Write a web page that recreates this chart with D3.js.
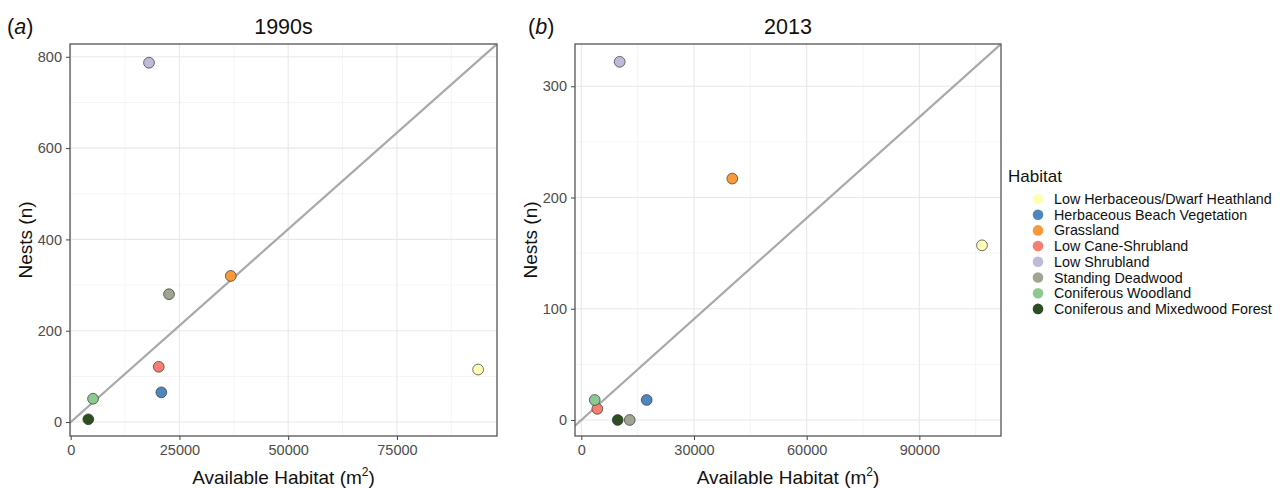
<!DOCTYPE html>
<html>
<head>
<meta charset="utf-8">
<script src="https://cdn.jsdelivr.net/npm/d3@7/dist/d3.min.js"></script>
<style>
  body { margin: 0; background: #fff; }
  svg { font-family: "Liberation Sans", Arial, sans-serif; }
</style>
</head>
<body>
<div id="chart"></div>
<script>
// habitat categories and fill colours (legend order)
const habitats = [
  'Low Herbaceous/Dwarf Heathland',
  'Herbaceous Beach Vegetation',
  'Grassland',
  'Low Cane-Shrubland',
  'Low Shrubland',
  'Standing Deadwood',
  'Coniferous Woodland',
  'Coniferous and Mixedwood Forest'
];
const habitatColors = ['#ffffb3', '#4f86bd', '#f99a3a', '#f67f72', '#bebada', '#9ea592', '#8cc98f', '#2d4e23'];

// (a) 1990s
const area1990 = [93670, 20840, 36800, 20240, 18000, 22600, 5130, 4050];
const nests1990 = [115, 65, 320, 121, 787, 280, 51, 6];
// (b) 2013
const area2013 = [106680, 17410, 40200, 4260, 10220, 12890, 3570, 9690];
const nests2013 = [157, 18, 217, 10, 322, 0, 18, 0];

// reference line slopes (nests per m2)
const slopes = [0.00845, 0.003025];

const xTicks = [[0, 25000, 50000, 75000], [0, 30000, 60000, 90000]];
const xMinor = [[12500, 37500, 62500, 87500], [15000, 45000, 75000, 105000]];
const yTicks = [[0, 200, 400, 600, 800], [0, 100, 200, 300]];
const yMinor = [[100, 300, 500, 700], [50, 150, 250]];

const panels = [
  { tag: 'a', title: '1990s', x: area1990, y: nests1990, slope: slopes[0],
    xDomain: [-160, 98000], yDomain: [-30.6, 828], left: 70, right: 497 },
  { tag: 'b', title: '2013', x: area2013, y: nests2013, slope: slopes[1],
    xDomain: [-1680, 111740], yDomain: [-14.4, 338], left: 575, right: 1001 }
];

const W = 1283, H = 489;
const plotTop = 44, plotBottom = 436;

const svg = d3.select('#chart').append('svg')
  .attr('width', W).attr('height', H);

panels.forEach((p, i) => {
  const x = d3.scaleLinear().domain(p.xDomain).range([p.left, p.right]);
  const y = d3.scaleLinear().domain(p.yDomain).range([plotBottom, plotTop]);
  const g = svg.append('g').attr('class', 'panel-' + p.tag);

  const clipId = 'clip-' + p.tag;
  svg.append('clipPath').attr('id', clipId)
    .append('rect')
    .attr('x', p.left).attr('y', plotTop)
    .attr('width', p.right - p.left).attr('height', plotBottom - plotTop);

  // grid
  const grid = g.append('g');
  grid.selectAll('.xminor').data(xMinor[i]).join('line')
    .attr('x1', d => x(d)).attr('x2', d => x(d))
    .attr('y1', plotTop).attr('y2', plotBottom)
    .attr('stroke', '#f2f2f2').attr('stroke-width', 0.8);
  grid.selectAll('.yminor').data(yMinor[i]).join('line')
    .attr('y1', d => y(d)).attr('y2', d => y(d))
    .attr('x1', p.left).attr('x2', p.right)
    .attr('stroke', '#f2f2f2').attr('stroke-width', 0.8);
  grid.selectAll('.xmajor').data(xTicks[i]).join('line')
    .attr('x1', d => x(d)).attr('x2', d => x(d))
    .attr('y1', plotTop).attr('y2', plotBottom)
    .attr('stroke', '#e8e8e8').attr('stroke-width', 1.1);
  grid.selectAll('.ymajor').data(yTicks[i]).join('line')
    .attr('y1', d => y(d)).attr('y2', d => y(d))
    .attr('x1', p.left).attr('x2', p.right)
    .attr('stroke', '#e8e8e8').attr('stroke-width', 1.1);

  // reference line through the origin
  const xs = p.xDomain;
  g.append('line')
    .attr('clip-path', `url(#${clipId})`)
    .attr('x1', x(xs[0])).attr('y1', y(xs[0] * p.slope))
    .attr('x2', x(xs[1])).attr('y2', y(xs[1] * p.slope))
    .attr('stroke', '#a9a9a9').attr('stroke-width', 2.2);

  // points
  g.append('g').selectAll('circle')
    .data(habitats.map((h, k) => ({ h, k, vx: p.x[k], vy: p.y[k] })))
    .join('circle')
    .attr('cx', d => x(d.vx))
    .attr('cy', d => y(d.vy))
    .attr('r', 5.4)
    .attr('fill', d => habitatColors[d.k])
    .attr('stroke', '#333')
    .attr('stroke-width', 0.7);

  // border
  g.append('rect')
    .attr('x', p.left).attr('y', plotTop)
    .attr('width', p.right - p.left).attr('height', plotBottom - plotTop)
    .attr('fill', 'none').attr('stroke', '#555').attr('stroke-width', 1.3);

  // axes
  const xAxis = g.append('g').attr('transform', `translate(0,${plotBottom})`)
    .call(d3.axisBottom(x).tickValues(xTicks[i]).tickFormat(d3.format('d')).tickSize(4).tickPadding(5));
  const yAxis = g.append('g').attr('transform', `translate(${p.left},0)`)
    .call(d3.axisLeft(y).tickValues(yTicks[i]).tickFormat(d3.format('d')).tickSize(4).tickPadding(4));
  [xAxis, yAxis].forEach(a => {
    a.select('.domain').remove();
    a.selectAll('line').attr('stroke', '#444');
    a.selectAll('text').attr('fill', '#4d4d4d')
      .style('font-family', '"Liberation Sans", Arial, sans-serif')
      .style('font-size', '14.5px');
  });

  const cx = (p.left + p.right) / 2;
  // title and tag
  g.append('text').attr('x', cx).attr('y', 34)
    .attr('text-anchor', 'middle').style('font-size', '21.5px').attr('fill', '#111')
    .text(p.title);
  const tag = g.append('text').attr('x', i === 0 ? 7 : 528).attr('y', 34)
    .style('font-size', '21.5px').attr('fill', '#111');
  tag.append('tspan').text('(');
  tag.append('tspan').style('font-style', 'italic').text(p.tag);
  tag.append('tspan').text(')');

  // axis titles
  const xt = g.append('text').attr('x', cx).attr('y', 484)
    .attr('text-anchor', 'middle').style('font-size', '19px').attr('fill', '#111');
  xt.append('tspan').text('Available Habitat (m');
  xt.append('tspan').attr('dy', -8).style('font-size', '12px').text('2');
  xt.append('tspan').attr('dy', 8).text(')');

  g.append('text')
    .attr('transform', `translate(${i === 0 ? 32 : 537},240) rotate(-90)`)
    .attr('text-anchor', 'middle').style('font-size', '19px').attr('fill', '#111')
    .text('Nests (n)');
});

// legend
const legend = svg.append('g').attr('transform', 'translate(1008,0)');
legend.append('text').attr('x', 0).attr('y', 182)
  .style('font-size', '17px').attr('fill', '#111').text('Habitat');
const item = legend.selectAll('.item').data(habitats).join('g')
  .attr('transform', (d, k) => `translate(0,${199 + k * 15.7})`);
item.append('circle').attr('cx', 30).attr('cy', 0).attr('r', 5.3)
  .attr('fill', (d, k) => habitatColors[k]);
item.append('text').attr('x', 46).attr('y', 5)
  .style('font-size', '14.3px').attr('fill', '#111').text(d => d);
</script>
</body>
</html>
